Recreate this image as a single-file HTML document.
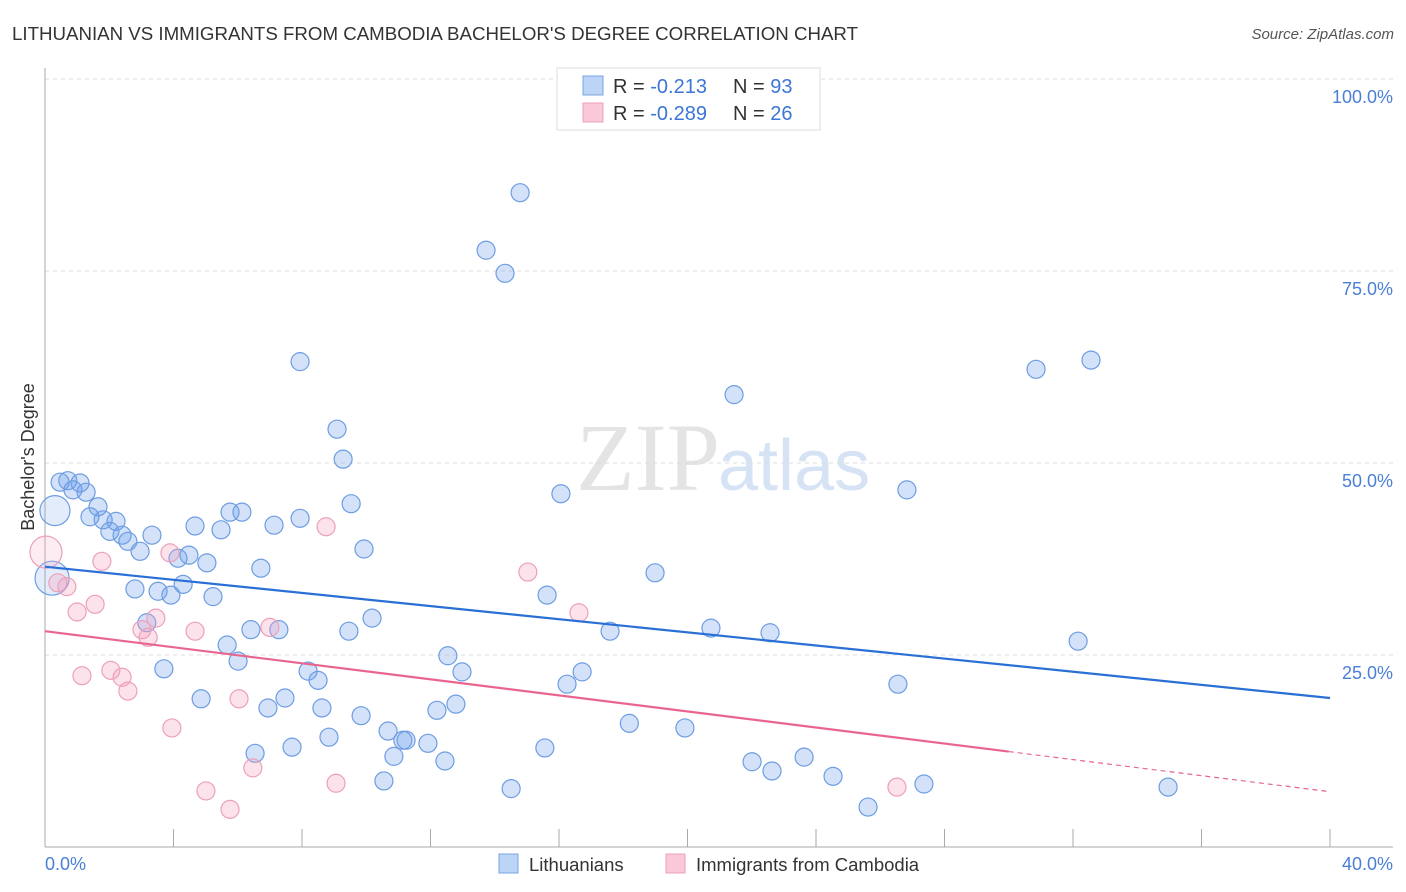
<!DOCTYPE html>
<html><head><meta charset="utf-8"><style>
body{margin:0;background:#fff;font-family:"Liberation Sans",sans-serif}
svg{display:block}
</style></head><body>
<svg id="chart" width="1406" height="892">
<text x="12" y="40" font-size="18.7" fill="#333">LITHUANIAN VS IMMIGRANTS FROM CAMBODIA BACHELOR'S DEGREE CORRELATION CHART</text>
<text x="1394" y="39" font-size="15" fill="#555" font-style="italic" text-anchor="end">Source: ZipAtlas.com</text>
<text x="720" y="490" font-size="96" fill="#e4e4e4" text-anchor="end" font-family="Liberation Serif,serif">ZIP</text>
<text x="718" y="490" font-size="72" fill="#d6e3f5">atlas</text>
<g id="grid"></g><g id="pts"></g><g id="lines"></g>
<text transform="translate(34,457) rotate(-90)" font-size="18" fill="#333" text-anchor="middle">Bachelor's Degree</text>
<text x="45" y="870" font-size="18" fill="#4a7fd6">0.0%</text>
<text x="1393" y="870" font-size="18" fill="#4a7fd6" text-anchor="end">40.0%</text>
<g>
<rect x="557" y="68" width="263" height="62" fill="#fff" stroke="#ddd"/>
<rect x="583" y="76" width="20" height="19" fill="#bcd4f6" stroke="#7aa6e6"/>
<rect x="583" y="103" width="20" height="19" fill="#fac8d8" stroke="#eea0b8"/>
<text x="613" y="93" font-size="20" fill="#333">R = <tspan fill="#3b76d6"> -0.213</tspan><tspan x="733">N = </tspan><tspan fill="#3b76d6">93</tspan></text>
<text x="613" y="120" font-size="20" fill="#333">R = <tspan fill="#3b76d6">-0.289</tspan><tspan x="733">N = </tspan><tspan fill="#3b76d6">26</tspan></text>
</g>
<g>
<rect x="499" y="854" width="19" height="19" fill="#bcd4f6" stroke="#7aa6e6"/>
<text x="529" y="871" font-size="18.5" fill="#333">Lithuanians</text>
<rect x="666" y="854" width="19" height="19" fill="#fac8d8" stroke="#eea0b8"/>
<text x="696" y="871" font-size="18.5" fill="#333">Immigrants from Cambodia</text>
</g>
</svg>
<script>
const yTicks=[25,50,75,100];
const xTickVals=[0,4,8,12,16,20,24,28,32,36,40];
const blueX=[14.79,13.73,14.32,7.94,30.85,32.56,21.45,9.09,9.28,16.06,26.83,9.53,0.47,0.71,1.09,0.87,1.28,1.65,1.40,2.21,1.81,2.02,2.40,2.58,2.96,3.33,4.67,5.48,5.76,6.13,7.13,7.94,9.93,4.14,4.48,5.04,6.72,2.80,3.52,3.92,4.30,5.23,18.99,15.63,10.18,3.17,3.70,5.67,6.01,6.41,7.28,9.46,17.59,20.73,22.57,32.16,12.54,12.98,8.19,8.50,16.72,16.25,26.55,4.86,6.94,7.47,8.62,9.84,12.20,12.79,18.19,19.92,10.68,8.84,7.69,6.54,11.14,11.24,11.92,10.86,12.45,15.56,22.01,22.63,23.63,24.53,10.55,14.51,27.36,25.62,34.96,0.31,0.22];
const blueY=[85.2,77.7,74.7,63.2,62.2,63.4,58.9,54.4,50.5,46.0,46.5,44.7,47.5,47.7,47.4,46.5,46.2,44.3,43.0,42.4,42.6,41.1,40.6,39.8,38.5,40.6,41.8,41.3,43.6,43.6,41.9,42.8,38.8,37.6,38.0,37.0,36.3,33.6,33.3,32.8,34.2,32.6,35.7,32.8,29.8,29.2,23.2,26.3,24.2,28.3,28.3,28.1,28.1,28.5,27.9,26.8,24.9,22.8,22.9,21.7,22.8,21.2,21.2,19.3,18.1,19.4,18.1,17.1,17.8,18.6,16.1,15.5,15.1,14.3,13.0,12.2,13.9,13.9,13.5,11.8,11.2,12.9,11.1,9.9,11.7,9.2,8.6,7.6,8.2,5.2,7.8,43.8,35.0];
const blueR=Array(91).fill(9).concat([15,17]);
const pinkX=[0.03,0.40,0.68,1.77,1.00,1.56,1.15,2.05,2.40,2.58,3.02,3.21,3.45,3.89,4.67,3.95,6.04,5.01,5.76,6.47,7.00,8.75,9.06,15.03,16.62,26.52];
const pinkY=[38.4,34.4,33.9,37.2,30.6,31.6,22.3,23.0,22.1,20.3,28.3,27.3,29.8,38.3,28.1,15.5,19.3,7.3,4.9,10.3,28.6,41.7,8.3,35.8,30.5,7.8];
const pinkR=[16].concat(Array(25).fill(9));
const blueTrend=[36.5,19.4];
const pinkTrend=[28.1,7.2];
const pinkSolidEnd=30;
const NS='http://www.w3.org/2000/svg';
const sx=v=>45+v/40*1285, sy=v=>847-v/100*768;
function mk(p,t,a){const e=document.createElementNS(NS,t);for(const k in a)e.setAttribute(k,a[k]);p.appendChild(e);return e;}
const grid=document.getElementById('grid'),pts=document.getElementById('pts'),lines=document.getElementById('lines');
yTicks.forEach(t=>{
 const l=mk(grid,'line',{x1:45,x2:1393,y1:sy(t),y2:sy(t),stroke:'#ddd','stroke-dasharray':'4,4'});
 
 
 const tx=mk(grid,'text',{x:1393,y:sy(t)+24,'font-size':18,fill:'#4a7fd6','text-anchor':'end'});
 tx.textContent=t.toFixed(1)+'%';
 
 
});
mk(grid,'line',{x1:45,x2:45,y1:68,y2:847,stroke:'#aaa'});
mk(grid,'line',{x1:45,x2:1393,y1:847,y2:847,stroke:'#aaa'});
xTickVals.forEach(t=>{
 const l=mk(grid,'line',{x1:sx(t),x2:sx(t),y1:829,y2:847,stroke:'#aaa'});
 
 
});
blueX.forEach((x,i)=>{
 const big=blueR[i]>10;
 const c=mk(pts,'circle',{cx:sx(x),cy:sy(blueY[i]),r:blueR[i],fill:big?'rgba(110,160,235,0.2)':'rgba(110,160,235,0.3)',stroke:'#6d9de2','stroke-width':1.2});
 
 
});
pinkX.forEach((x,i)=>{
 const big=pinkR[i]>10;
 const c=mk(pts,'circle',{cx:sx(x),cy:sy(pinkY[i]),r:pinkR[i],fill:big?'rgba(245,160,190,0.2)':'rgba(245,160,190,0.3)',stroke:'#eca0ba','stroke-width':1.2});
 
 
});
const bl=mk(lines,'line',{x1:sx(0),y1:sy(blueTrend[0]),x2:sx(40),y2:sy(blueTrend[1]),stroke:'#2a6fd6','stroke-width':2.2});


const pe=pinkTrend[0]+(pinkTrend[1]-pinkTrend[0])*pinkSolidEnd/40;
const pl=mk(lines,'line',{x1:sx(0),y1:sy(pinkTrend[0]),x2:sx(pinkSolidEnd),y2:sy(pe),stroke:'#e8658f','stroke-width':2.2});


const pd=mk(lines,'line',{x1:sx(pinkSolidEnd),y1:sy(pe),x2:sx(40),y2:sy(pinkTrend[1]),stroke:'#e8658f','stroke-width':1.2,'stroke-dasharray':'5,4'});


</script>
</body></html>
